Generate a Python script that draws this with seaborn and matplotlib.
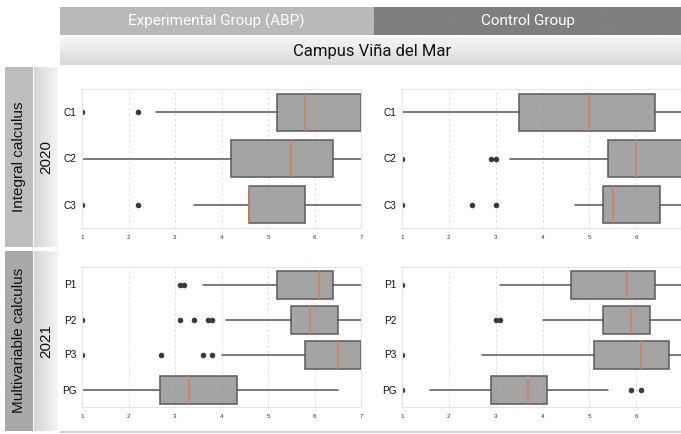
import numpy as np
import matplotlib
matplotlib.use("Agg")
import matplotlib.pyplot as plt
import seaborn as sns
from matplotlib.colors import LinearSegmentedColormap

# ---- grades (1-7 scale), box summaries per evaluation ----
cats_2020 = ["C1", "C2", "C3"]
exp20_whislo = [2.6, 1.0, 3.4]
exp20_q1 = [5.2, 4.2, 4.6]
exp20_med = [5.8, 5.5, 4.6]
exp20_q3 = [7.0, 6.4, 5.8]
exp20_whishi = [7.0, 7.0, 7.0]
exp20_fliers = [[1.0, 2.2], [], [1.0, 2.2]]

ctl20_whislo = [1.0, 3.3, 4.7]
ctl20_q1 = [3.5, 5.4, 5.3]
ctl20_med = [5.0, 6.0, 5.5]
ctl20_q3 = [6.4, 7.0, 6.5]
ctl20_whishi = [7.0, 7.0, 7.0]
ctl20_fliers = [[], [1.0, 2.9, 3.0], [1.0, 2.5, 3.0]]

cats_2021 = ["P1", "P2", "P3", "PG"]
exp21_whislo = [3.6, 4.1, 4.0, 1.0]
exp21_q1 = [5.2, 5.5, 5.8, 2.67]
exp21_med = [6.1, 5.9, 6.5, 3.3]
exp21_q3 = [6.4, 6.5, 7.0, 4.33]
exp21_whishi = [7.0, 7.0, 7.0, 6.5]
exp21_fliers = [[3.1, 3.2], [1.0, 3.1, 3.4, 3.7, 3.8], [1.0, 2.7, 3.6, 3.8], []]

ctl21_whislo = [3.1, 4.0, 2.7, 1.6]
ctl21_q1 = [4.6, 5.3, 5.1, 2.9]
ctl21_med = [5.8, 5.9, 6.1, 3.7]
ctl21_q3 = [6.4, 6.3, 6.7, 4.1]
ctl21_whishi = [7.0, 7.0, 7.0, 5.4]
ctl21_fliers = [[1.0], [3.0, 3.1], [1.0], [1.0, 5.9, 6.1]]

grade_ticks = [1, 2, 3, 4, 5, 6, 7]

sns.set_theme(style="white")
plt.rcParams["font.family"] = ["Liberation Sans", "DejaVu Sans"]

W, H = 681, 434
fig = plt.figure(figsize=(W / 100, H / 100), dpi=100)
fig.patch.set_facecolor("white")


def rect(x0, y0, x1, y1):
    return [x0 / W, 1 - y1 / H, (x1 - x0) / W, (y1 - y0) / H]


def band(x0, y0, x1, y1, c0, c1, horizontal=False):
    ax = fig.add_axes(rect(x0, y0, x1, y1))
    cmap = LinearSegmentedColormap.from_list("b", [c0, c1])
    g = np.linspace(0, 1, 64)
    img = g[None, :] if horizontal else g[:, None]
    ax.imshow(img, cmap=cmap, aspect="auto", extent=(0, 1, 0, 1) if horizontal else (0, 1, 1, 0),
              vmin=0, vmax=1)
    ax.set_axis_off()
    return ax


def ftext(x, y, s, **kw):
    fig.text(x / W, 1 - y / H, s, ha="center", va="center", **kw)


# column headers
band(60, 7, 374, 35, "#b9b9b9", "#b9b9b9")
band(374, 7, 681, 35, "#7f7f7f", "#7f7f7f")
ftext(216, 21, "Experimental Group (ABP)", color="white", fontsize=11, family=["Roboto", "DejaVu Sans"])
ftext(528, 21, "Control Group", color="white", fontsize=11, family=["Roboto", "DejaVu Sans"])
band(60, 37, 681, 65, "#f6f6f6", "#d9d9d9")
ftext(372, 51, "Campus Viña del Mar", color="#111111", fontsize=12, family=["Roboto", "DejaVu Sans"])

# row headers
band(5, 67, 33, 247, "#bdbdbd", "#bdbdbd")
band(34, 67, 58, 247, "#d6d6d6", "#f4f4f4", horizontal=True)
band(5, 251, 33, 431, "#a9a9a9", "#a9a9a9")
band(34, 251, 58, 431, "#d6d6d6", "#f4f4f4", horizontal=True)
ftext(19, 157, "Integral calculus", rotation=90, fontsize=11, color="#111111")
ftext(46, 157, "2020", rotation=90, fontsize=11, color="#111111")
ftext(19, 340, "Multivariable calculus", rotation=90, fontsize=11, color="#111111")
ftext(46, 341, "2021", rotation=90, fontsize=11, color="#111111")

fig.add_artist(plt.Line2D([60 / W, 1], [1 - 432 / H, 1 - 432 / H], color="#c8c8c8", lw=1.2))


def panel(box, cats, whislo, q1, med, q3, whishi, fliers):
    ax = fig.add_axes(rect(*box))
    stats = [dict(label=c, whislo=a, q1=b, med=m, q3=d, whishi=e, fliers=f)
             for c, a, b, m, d, e, f in zip(cats, whislo, q1, med, q3, whishi, fliers)]
    ax.bxp(stats, positions=list(range(len(cats))), widths=0.8, orientation="horizontal",
           patch_artist=True, showcaps=False,
           boxprops=dict(facecolor="#9c9c9c", edgecolor="#5a5a5a", linewidth=1.2, alpha=0.92),
           whiskerprops=dict(color="#555555", linewidth=1.1),
           medianprops=dict(color="#e07b53", linewidth=1.1),
           flierprops=dict(marker="o", markerfacecolor="#3a3a3a", markeredgecolor="#3a3a3a",
                           markersize=3.0))
    ax.set_xlim(1, 7)
    ax.set_ylim(len(cats) - 0.5, -0.5)
    ax.set_xticks(grade_ticks)
    ax.set_xticklabels([str(t) for t in grade_ticks])
    ax.set_yticks(range(len(cats)))
    ax.set_yticklabels(cats)
    ax.tick_params(axis="x", labelsize=4.5, length=0, pad=5, colors="#333333")
    ax.tick_params(axis="y", labelsize=7.2, length=0, pad=4, colors="#111111")
    ax.grid(axis="x", linestyle=(0, (3, 2.5)), color="#e0e0e0", linewidth=0.7)
    ax.grid(axis="y", visible=False)
    ax.set_axisbelow(True)
    for s in ax.spines.values():
        s.set_color("#e4e4e4")
        s.set_linewidth(0.8)
    ax.set_facecolor("white")
    return ax


panel((82, 89, 361, 228), cats_2020, exp20_whislo, exp20_q1, exp20_med, exp20_q3, exp20_whishi, exp20_fliers)
panel((402, 89, 683, 228), cats_2020, ctl20_whislo, ctl20_q1, ctl20_med, ctl20_q3, ctl20_whishi, ctl20_fliers)
panel((82, 267, 361, 407), cats_2021, exp21_whislo, exp21_q1, exp21_med, exp21_q3, exp21_whishi, exp21_fliers)
panel((402, 267, 683, 407), cats_2021, ctl21_whislo, ctl21_q1, ctl21_med, ctl21_q3, ctl21_whishi, ctl21_fliers)

fig.savefig("out.png", dpi=100)
